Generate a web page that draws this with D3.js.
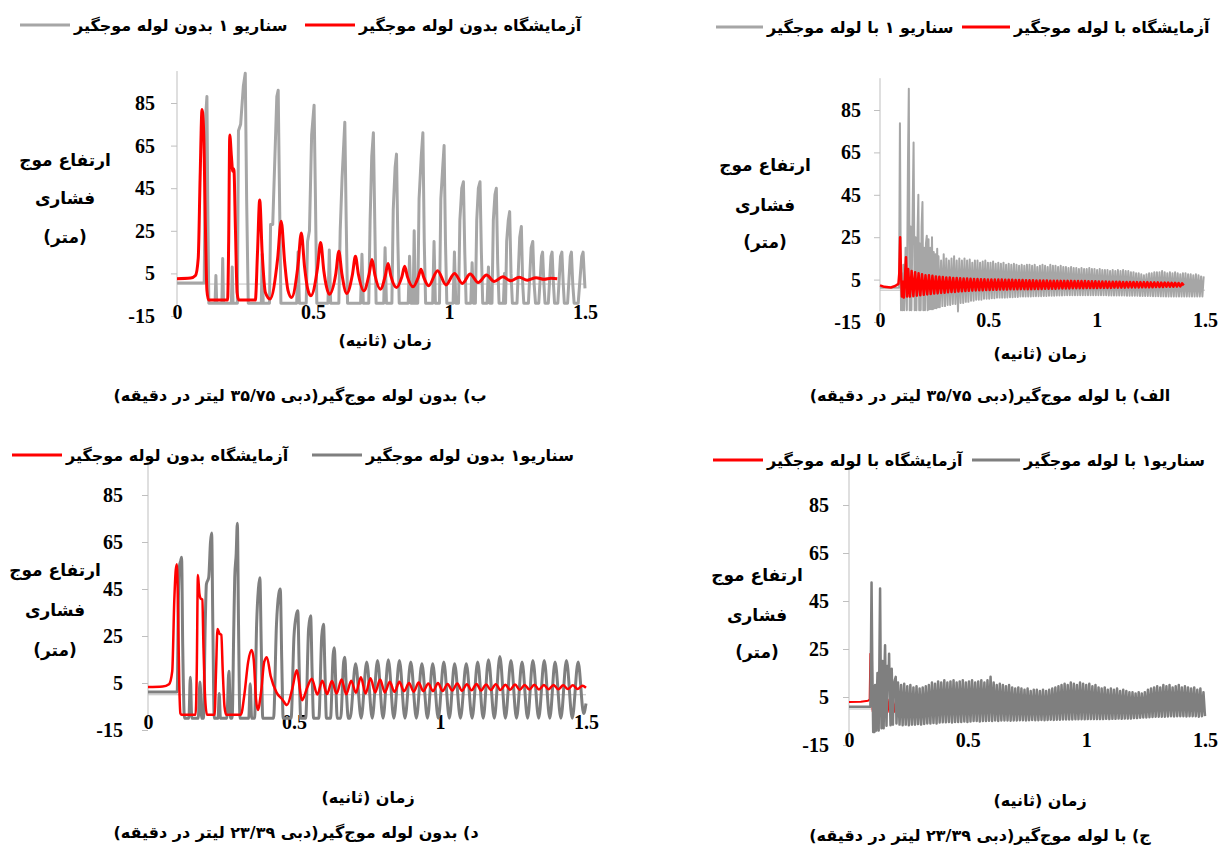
<!DOCTYPE html>
<html lang="fa">
<head>
  <meta charset="UTF-8">
  <title>ارتفاع موج فشاری</title>
  <script src="https://d3js.org/d3.v7.min.js"></script>
  <style>
    body { margin: 0; background: #fff; }
    .num { font-family: "Liberation Serif", "DejaVu Serif", serif; font-weight: bold; fill: #000; }
    .fa { font-family: "DejaVu Sans", sans-serif; font-weight: bold; fill: #000; }
  </style>
</head>
<body>
  <script>
    // ---------- data (time in s, head in m) ----------
    const xTicks = [0, 0.5, 1, 1.5];
    const yTicks = [-15, 5, 25, 45, 65, 85];

    // panel ب : lab (red) and scenario 1 (gray), without surge tank, 35.75 l/min
    const labB = [
      [0,2.5],[0.05,2.8],[0.068,4],[0.078,12],[0.085,50],[0.092,82],[0.098,72],[0.104,30],[0.11,-3],[0.116,-7.5],
      [0.186,-7.5],[0.19,20],[0.194,70],[0.2,60],[0.205,53],[0.209,54],[0.215,25],[0.221,-4],[0.227,-7.5],
      [0.288,-7.5],[0.296,15],[0.304,39.5],[0.313,15],[0.325,-4],[0.342,-7],
      [0.37,12],[0.383,29.5],[0.396,10],[0.408,-3],[0.421,-6.3],
      [0.445,9],[0.457,24],[0.469,8],[0.48,-2],[0.492,-5.5],
      [0.516,7],[0.528,19.5],[0.54,6],[0.55,-1.5],[0.56,-4.8],
      [0.584,5],[0.595,15.4],[0.606,5],[0.624,-4.4],
      [0.645,4.5],[0.656,13],[0.667,4.5],[0.687,-3.2],
      [0.706,4.5],[0.717,11.5],[0.728,4],[0.748,-2.4],
      [0.766,4],[0.776,9.7],[0.786,4],[0.807,-1.6],
      [0.827,3.5],[0.837,8.3],[0.847,3.5],[0.868,-1.3],
      [0.887,3.2],[0.897,7],[0.907,3.2],[0.925,-0.8],
      [0.958,6.3],[0.989,-0.4],[1.02,5],[1.049,0.3],[1.078,4.7],[1.107,0.7],[1.138,4.2],[1.166,1.2],
      [1.198,3.4],[1.227,1.5],[1.258,3.2],[1.288,1.8],[1.32,3],[1.35,2.2],[1.375,2.7],[1.398,2.5]
    ];
    const simB = [
      [0,0.5],[0.1,0.5],[0.103,40],[0.106,80],[0.108,84],[0.11,88],[0.113,40],[0.117,-9],
      [0.14,-9],[0.143,4],[0.146,-9],[0.165,-9],[0.168,12],[0.171,-9],[0.2,-9],[0.203,8],[0.206,-9],
      [0.222,-9],[0.226,72],[0.234,75],[0.244,93],[0.251,99],[0.256,40],[0.262,-9],
      [0.31,-9],[0.313,14],[0.317,-9],[0.34,-9],[0.344,28],[0.352,28],[0.36,60],[0.367,88],[0.372,91],[0.377,40],[0.382,-9],
      [0.44,-9],[0.445,15],[0.45,-9],[0.475,-9],[0.48,20],[0.487,25],[0.495,70],[0.504,84],[0.509,40],[0.514,-9],
      [0.555,-9],[0.56,16],[0.565,-9],[0.595,-9],[0.6,25],[0.607,50],[0.617,76],[0.622,30],[0.627,-9],
      [0.675,-9],[0.68,14],[0.685,-9],[0.705,-9],[0.71,30],[0.716,60],[0.722,71],[0.727,30],[0.732,-9],
      [0.76,-9],[0.765,17],[0.77,-9],[0.79,-9],[0.795,35],[0.802,55],[0.807,61],[0.812,20],[0.817,-9],
      [0.85,-9],[0.855,13],[0.86,-9],[0.868,-9],[0.872,25],[0.876,-9],[0.885,-9],[0.89,40],[0.898,60],[0.904,71],[0.909,20],[0.914,-9],
      [0.94,-9],[0.945,20],[0.95,-9],[0.965,-9],[0.97,40],[0.977,55],[0.982,65],[0.987,20],[0.992,-9],
      [1.015,-9],[1.02,15],[1.025,-9],[1.035,-9],[1.04,30],[1.047,45],[1.053,48],[1.058,15],[1.063,-9],
      [1.08,-9],[1.085,10],[1.09,-9],[1.097,-9],[1.102,30],[1.108,45],[1.114,48],[1.119,15],[1.124,-9],
      [1.14,-9],[1.145,8],[1.15,-9],[1.158,-9],[1.163,30],[1.169,42],[1.174,45],[1.179,10],[1.184,-9],
      [1.2,-9],[1.204,5],[1.208,-9],[1.212,20],[1.218,30],[1.223,34],[1.228,5],[1.233,-9],
      [1.25,-9],[1.26,22],[1.266,27],[1.271,0],[1.275,-9],
      [1.292,-9],[1.302,17],[1.308,20],[1.313,0],[1.318,-9],
      [1.33,-9],[1.34,13],[1.344,15],[1.349,0],[1.353,-9],
      [1.365,-9],[1.375,13],[1.379,15],[1.384,0],[1.388,-9],
      [1.4,-9],[1.41,13],[1.415,15],[1.42,0],[1.424,-9],
      [1.436,-9],[1.446,13],[1.45,15],[1.455,0],[1.46,-9],
      [1.475,-9],[1.488,13],[1.493,15],[1.497,5],[1.5,-2]
    ];

    // panel الف : with surge tank, 35.75 l/min (sampled oscillation after the first spikes)
    const labA_lead = [
      [0,2.3],[0.02,1.6],[0.05,1.3],[0.07,2],[0.085,3],[0.089,8],[0.093,25],[0.097,8],[0.101,-3],
      [0.106,4],[0.11,-3.5],[0.115,6],[0.12,15.6],[0.125,-3]
    ];
    const labA_t0 = 0.13, labA_dt = 0.008;
    const labA_osc = [
      10,-3, 9,-2.8, 8.5,-2.6, 8,-2.4, 7.5,-2.2,
      7,-2, 7,-1.8, 6.8,-1.6, 6.5,-1.5, 6.4,-1.3,
      6.2,-1.2, 6,-1, 6,-0.9, 5.8,-0.8, 5.8,-0.6,
      5.6,-0.5, 5.5,-0.4, 5.5,-0.3, 5.4,-0.2, 5.3,-0.1,
      5.3,0, 5.2,0, 5.2,0.1, 5.1,0.1, 5.1,0.2,
      5,0.2, 5,0.3, 5,0.3, 4.9,0.3, 4.9,0.4,
      4.9,0.4, 4.8,0.4, 4.8,0.5, 4.8,0.5, 4.7,0.5,
      4.7,0.5, 4.7,0.6, 4.6,0.6, 4.6,0.6, 4.6,0.7,
      4.6,0.7, 4.5,0.7, 4.5,0.7, 4.5,0.8, 4.4,0.8,
      4.4,0.8, 4.4,0.8, 4.4,0.9, 4.3,0.9, 4.3,0.9,
      4.3,0.9, 4.3,1, 4.2,1, 4.2,1, 4.2,1,
      4.1,1.1, 4.1,1.1, 4.1,1.1, 4,1.1, 4,1.2,
      4,1.2, 4,1.2, 3.9,1.2, 3.9,1.3, 3.9,1.3,
      3.9,1.3, 3.8,1.3, 3.8,1.4, 3.8,1.4, 3.8,1.4,
      3.7,1.4, 3.7,1.5, 3.7,1.5, 3.6,1.5, 3.6,1.6,
      3.6,1.6, 3.5,1.6, 3.5,1.7, 3.4,1.8, 3.2,2.3
    ];
    const simA_lead = [
      [0,1.2],[0.088,1.2],[0.092,78.8],[0.097,-9.4],[0.1,8],[0.104,-9.4],[0.108,12],[0.112,-9.4],
      [0.118,20],[0.124,-9.4],[0.129,60],[0.133,95],[0.137,-9.4],[0.141,30],[0.145,-9.4],[0.151,40],
      [0.155,69.7],[0.16,-9.4],[0.164,25],[0.168,-9.4],[0.174,30],[0.177,45],[0.181,-9.4],[0.184,22],
      [0.188,-9.4],[0.192,30],[0.196,41.6],[0.2,-9.4],[0.204,20],[0.208,-9.4],[0.212,22],[0.216,25.7],
      [0.22,-9.4],[0.224,24],[0.228,-9],[0.232,20],[0.236,-9],[0.24,25],[0.244,-9],[0.248,18],
      [0.252,-8.5],[0.256,17],[0.26,-8.5],[0.264,19.5],[0.268,-8]
    ];
    const simA_t0 = 0.27, simA_dt = 0.006;
    const simA_osc = [
      16,-8, 14,-7.5, 17,-7.5, 15,-7, 14,-7,
      15,-6.5, 16,-6.5, 14,-10, 15,-6, 14,-6,
      15,-5.5, 14,-5.5, 14.5,-5, 13,-5, 14,-4.5,
      14,-4.5, 13,-4.5, 13.5,-4, 14,-4, 13,-4,
      13,-3.8, 13.5,-3.8, 12.5,-3.5, 13,-3.5, 12.5,-3.5,
      13,-3.5, 12,-3.4, 12.5,-3.3, 12,-3.3, 12.5,-3.2,
      12,-3.2, 11.5,-3, 12,-3, 11.5,-3, 12,-3,
      12,-3, 11.5,-2.8, 12,-2.8, 11,-2.8, 11.5,-2.8,
      12,-2.7, 11.5,-2.7, 11,-2.6, 12,-2.6, 11.5,-2.6,
      11.5,-2.5, 11,-2.5, 11.5,-2.5, 11,-2.4, 11,-2.4,
      10.5,-2.4, 11,-2.4, 10.5,-2.4, 10.5,-2.4, 10,-2.4,
      10.5,-2.4, 10,-2.4, 10,-2.4, 10.5,-2.4, 10,-2.4,
      10,-2.4, 9.5,-2.4, 10,-2.4, 9.5,-2.4, 9.5,-2.4,
      9.5,-2.5, 9,-2.5, 9.5,-2.5, 9,-2.5, 9.5,-2.5,
      9,-2.5, 9.5,-2.5, 9,-2.6, 9,-2.6, 8.5,-2.6,
      8.5,-2.6, 8,-2.6, 8,-2.7, 7.5,-2.7, 7,-2.7,
      7.5,-2.7, 8,-2.7, 8,-2.8, 8.5,-2.8, 8.5,-2.8,
      8.5,-2.9, 9,-2.9, 8.5,-3, 8,-3, 8.5,-3,
      8,-3, 8.5,-3, 8,-3, 7.5,-3, 8,-3,
      8,-3, 7.5,-3, 7.5,-3, 7,-3, 7.5,-3,
      7,-3, 6.5,-3, 6.5
    ];

    // panel د : without surge tank, 23.39 l/min
    const labD = [
      [0,3.3],[0.05,3.5],[0.072,4.5],[0.083,10],[0.09,40],[0.095,53],[0.099,55.5],[0.103,35],[0.107,5],[0.111,-8],[0.115,-8.5],
      [0.163,-8.5],[0.167,10],[0.171,51],[0.176,43],[0.18,41],[0.186,40.5],[0.19,20],[0.196,-2],[0.202,-8.5],
      [0.228,-8.5],[0.233,10],[0.238,28],[0.245,26],[0.251,25.5],[0.256,10],[0.262,-5],[0.268,-8.5],
      [0.318,-8.5],[0.33,0],[0.343,14],[0.355,19],[0.362,15],[0.37,-2],[0.376,-6.5],
      [0.388,2],[0.398,14],[0.407,16],[0.42,8],[0.44,1],[0.46,-2],[0.476,-4.4],
      [0.495,3],[0.509,10.4],[0.528,-2.3],[0.545,3],[0.561,6.8],[0.58,0.1],
      [0.597,6],[0.613,0.3],[0.63,5.8],[0.646,0.5],[0.663,6.5],[0.679,0.2],[0.696,6],[0.712,0.8],
      [0.729,7.5],[0.745,0.5],[0.762,7],[0.778,1],[0.795,6.5],[0.811,1],[0.828,5.5],[0.844,1.2],
      [0.861,5.5],[0.877,1.5],[0.894,5],[0.91,1.3],[0.927,5.2],[0.943,1.5],[0.96,4.8],[0.976,1.5],
      [0.993,5],[1.009,1.6],[1.026,4.6],[1.042,1.8],[1.059,4.8],[1.075,1.7],[1.092,4.5],[1.108,1.9],
      [1.125,4.6],[1.141,1.8],[1.158,4.4],[1.174,2],[1.191,4.5],[1.207,2],[1.224,4.3],[1.24,2.1],
      [1.257,4.4],[1.273,2.1],[1.29,4.2],[1.306,2.2],[1.323,4.3],[1.339,2.2],[1.356,4.1],[1.372,2.3],
      [1.389,4.2],[1.405,2.3],[1.422,4],[1.438,2.4],[1.455,4],[1.471,2.5],[1.488,3.8],[1.5,3]
    ];
    const simD = [
      [0,1.2],[0.1,1.2],[0.104,40],[0.108,55],[0.112,57],[0.115,58.5],[0.119,20],[0.125,-10],
      [0.14,-10],[0.145,7.5],[0.15,-10],[0.172,-10],[0.178,5.4],[0.184,-10],
      [0.19,-10],[0.196,30],[0.2,47],[0.208,50],[0.214,65],[0.218,68.8],[0.222,30],[0.227,-10],
      [0.24,-10],[0.244,0.5],[0.248,-10],[0.27,-10],[0.277,10],[0.283,-10],
      [0.288,-10],[0.294,30],[0.297,49.8],[0.302,60],[0.306,73],[0.31,30],[0.315,-10],
      [0.345,-10],[0.35,4.7],[0.355,-10],
      [0.365,-10],[0.372,30],[0.378,45],[0.383,49.8],[0.388,20],[0.393,-10],
      [0.43,-10],[0.44,30],[0.448,43],[0.453,45],[0.458,15],[0.463,-10],
      [0.49,-10],[0.5,25],[0.508,34],[0.513,35.7],[0.518,10],[0.523,-10],
      [0.54,-10],[0.55,28],[0.557,33.6],[0.562,10],[0.567,-10],
      [0.585,-10],[0.595,25],[0.601,30],[0.606,10],[0.611,-10],
      [0.625,-10],[0.634,17],[0.638,20],[0.643,5],[0.648,-10],
      [0.66,-10],[0.67,14],[0.674,16],[0.68,0],[0.686,-10],
      [0.692,-10],[0.711,13.2],[0.73,-10],[0.749,13.9],[0.768,-10],[0.786,14.6],[0.805,-10],[0.823,14.9],
      [0.842,-10],[0.861,14.6],[0.88,-10],[0.9,13.9],[0.919,-10],[0.938,13.2],[0.957,-10],[0.975,13.2],
      [0.994,-10],[1.013,13.9],[1.032,-10],[1.05,13.2],[1.07,-10],[1.09,13.2],[1.11,-10],[1.129,13.9],
      [1.148,-10],[1.166,14.9],[1.186,-10],[1.205,16.3],[1.224,-10],[1.243,14.6],[1.262,-10],[1.281,13.9],
      [1.3,-10],[1.318,14.6],[1.338,-10],[1.357,14.6],[1.376,-10],[1.394,13.9],[1.414,-10],[1.433,14.6],
      [1.453,-10],[1.473,13.9],[1.492,-8],[1.5,-3.7]
    ];

    // panel ج : with surge tank, 23.39 l/min
    const labC = [
      [0,2.9],[0.05,3],[0.08,3.4],[0.087,4],[0.09,23],[0.094,8],[0.1,-1],[0.107,-2.6],[0.114,5],[0.121,-2],
      [0.128,5],[0.135,-1.5],[0.142,4.5],[0.149,-1.5],[0.156,4.5],[0.163,-1.3],[0.17,4],[0.177,-1.3],
      [0.184,4],[0.191,-1.2],[0.198,4],[0.205,-1.2],[0.212,3.8],[0.22,-1.2],[0.228,3.8],[0.236,0],
      [0.25,3.5],[0.265,0.5],[0.28,3.5],[0.295,0.8],[0.31,3.4],[0.4,1],[0.5,3.2],[0.6,1.2],[0.8,3],
      [1,1.5],[1.2,3],[1.4,2.2]
    ];
    const simC_lead = [
      [0,0.9],[0.09,0.9],[0.093,30],[0.095,52.7],[0.098,20],[0.102,-9.6],[0.107,-9.6],[0.11,10],[0.114,-9],
      [0.12,15],[0.125,-9],[0.128,20],[0.131,50.2],[0.134,10],[0.137,-8],[0.141,20],[0.146,-8],[0.149,15],
      [0.152,26.6],[0.155,5],[0.158,-7],[0.163,18],[0.166,10],[0.169,23],[0.172,5],[0.175,-6.8],
      [0.18,16.8],[0.185,-6.5],[0.189,10],[0.193,12],[0.197,13.4]
    ];
    const simC_t0 = 0.2, simC_dt = 0.0065;
    const simC_osc = [
      -6,
      11,-6.5, 10,-6.8, 10.5,-6.5, 9.5,-6.8, 10,-6.5,
      9,-6.5, 9.5,-6.3, 8.5,-6.5, 9,-6.2, 9.5,-6,
      10,-6, 11,-5.8, 10.5,-6, 11.5,-5.6, 11,-5.5,
      12,-5.5, 11,-5.4, 11.5,-5.6, 12,-5.4, 11,-5.4,
      11.5,-5.4, 12,-5.2, 11,-5.4, 11.5,-5.2, 12,-5,
      11,-5, 11.5,-5.2, 12,-5, 11,-5, 12,-4.9,
      13.4,-5, 11,-4.8, 10,-5, 10.5,-4.8, 10,-4.8,
      9.5,-4.8, 10,-4.9, 9,-4.8, 8.5,-4.8, 9,-4.7,
      8.5,-4.7, 8,-4.8, 8.5,-4.7, 7.5,-4.6, 8,-4.7,
      8,-4.7, 7.5,-4.6, 8,-4.7, 7.5,-4.6, 8,-4.5,
      8.5,-4.6, 9,-4.5, 9.5,-4.5, 10,-4.4, 10.5,-4.4,
      10,-4.4, 11,-4.4, 10.5,-4.3, 10,-4.3, 11,-4.3,
      10.5,-4.3, 10,-4.2, 10.5,-4.2, 9.5,-4.2, 10,-4.2,
      9,-4.2, 8.5,-4.2, 9,-4.1, 8,-4.2, 8.5,-4.1,
      8,-4.1, 8.5,-4, 7.5,-4.1, 8,-4, 7.5,-4,
      7,-4, 7,-3.8, 6.5,-3.8, 7,-3.6, 6.5,-3.5,
      7,-3.5, 8,-3.4, 8.5,-3.3, 9,-3.2, 9.5,-3.2,
      9,-3.2, 10,-3.2, 9.5,-3.1, 10,-3, 9,-3.1,
      9.5,-3, 10,-3, 9,-3, 9.5,-3.1, 9,-3,
      8.5,-3, 9,-3, 8,-3.2, 8.5,-3, 7,-3
    ];

    // ---------- text ----------
    const yTitleLines = ["ارتفاع موج", "فشاری", "(متر)"];
    const xTitle = "زمان (ثانیه)";

    function sampled(lead, t0, dt, vals) {
      return lead.concat(vals.map((v, i) => [t0 + i * dt, v]));
    }

    const red = "#ff0000", grayLight = "#a6a6a6", grayDark = "#7f7f7f";

    const panels = [
      { xr: [177, 585], yr: [316, 103], pad: 16, xLabY: 312,
        yTitle: { x: 65, ys: [160, 198, 237] }, xTitlePos: [385, 340],
        caption: [300, 395, "ب) بدون لوله موج‌گیر(دبی ۳۵/۷۵ لیتر در دقیقه)"],
        legendY: 25,
        legend: [
          { color: grayLight, x0: 20, x1: 70, label: "سناریو ۱ بدون لوله موجگیر" },
          { color: red, x0: 305, x1: 355, label: "آزمایشگاه بدون لوله موجگیر" }
        ],
        series: [
          { data: simB, color: grayLight, width: 3, curve: d3.curveLinear },
          { data: labB, color: red, width: 3, curve: d3.curveMonotoneX }
        ] },
      { xr: [880, 1205], yr: [322, 110], pad: 13, xLabY: 320,
        yTitle: { x: 765, ys: [165, 205, 242] }, xTitlePos: [1040, 353],
        caption: [990, 395, "الف) با لوله موج‌گیر(دبی ۳۵/۷۵ لیتر در دقیقه)"],
        legendY: 27,
        legend: [
          { color: grayLight, x0: 716, x1: 763, label: "سناریو ۱ با لوله موجگیر" },
          { color: red, x0: 962, x1: 1010, label: "آزمایشگاه با لوله موجگیر" }
        ],
        series: [
          { data: sampled(simA_lead, simA_t0, simA_dt, simA_osc), color: grayLight, width: 2, curve: d3.curveLinear },
          { data: sampled(labA_lead, labA_t0, labA_dt, labA_osc), color: red, width: 2.5, curve: d3.curveLinear }
        ] },
      { xr: [148, 586], yr: [730, 495], pad: 19, xLabY: 722,
        yTitle: { x: 55, ys: [570, 610, 650] }, xTitlePos: [368, 797],
        caption: [296, 832, "د) بدون لوله موج‌گیر(دبی ۲۳/۳۹ لیتر در دقیقه)"],
        legendY: 455,
        legend: [
          { color: red, x0: 12, x1: 62, label: "آزمایشگاه بدون لوله موجگیر" },
          { color: grayDark, x0: 312, x1: 362, label: "سناریو۱ بدون لوله موجگیر" }
        ],
        series: [
          { data: simD, color: grayDark, width: 3, curve: d3.curveMonotoneX },
          { data: labD, color: red, width: 2.5, curve: d3.curveMonotoneX }
        ] },
      { xr: [849, 1205], yr: [745, 505], pad: 14, xLabY: 740,
        yTitle: { x: 757, ys: [575, 615, 652] }, xTitlePos: [1040, 800],
        caption: [980, 835, "ج) با لوله موج‌گیر(دبی ۲۳/۳۹ لیتر در دقیقه)"],
        legendY: 460,
        legend: [
          { color: red, x0: 713, x1: 763, label: "آزمایشگاه با لوله موجگیر" },
          { color: grayDark, x0: 972, x1: 1020, label: "سناریو۱ با لوله موجگیر" }
        ],
        series: [
          { data: labC, color: red, width: 2, curve: d3.curveLinear },
          { data: sampled(simC_lead, simC_t0, simC_dt, simC_osc), color: grayDark, width: 2.5, curve: d3.curveLinear }
        ] }
    ];

    const width = 1220, height = 852;
    const svg = d3.select("body").append("svg")
      .attr("width", width)
      .attr("height", height)
      .attr("viewBox", [0, 0, width, height]);

    svg.append("rect").attr("width", width).attr("height", height).attr("fill", "#fff");

    panels.forEach(p => {
      const g = svg.append("g");
      const x = d3.scaleLinear().domain([0, 1.5]).range(p.xr);
      const y = d3.scaleLinear().domain([-15, 85]).range(p.yr);

      // horizontal axis line at 0
      g.append("line")
        .attr("x1", x(0)).attr("x2", x(1.5))
        .attr("y1", y(0)).attr("y2", y(0))
        .attr("stroke", "#bfbfbf").attr("stroke-width", 1);

      // vertical axis
      const ya = g.append("g")
        .attr("transform", `translate(${x(0)},0)`)
        .call(d3.axisLeft(y).tickValues(yTicks).tickSize(6).tickPadding(p.pad).tickFormat(d => String(d)));
      ya.select(".domain").remove();
      ya.selectAll(".tick line").attr("stroke", "#bfbfbf");
      ya.selectAll(".tick text").attr("class", "num").attr("font-size", 20);
      g.append("line")
        .attr("x1", x(0)).attr("x2", x(0))
        .attr("y1", y(100)).attr("y2", y(-10))
        .attr("stroke", "#bfbfbf").attr("stroke-width", 1);

      // time labels
      const xa = g.append("g")
        .attr("transform", `translate(0,${p.xLabY})`)
        .call(d3.axisBottom(x).tickValues(xTicks).tickSize(0).tickFormat(d => String(d)));
      xa.select(".domain").remove();
      xa.selectAll(".tick text").attr("class", "num").attr("font-size", 20).attr("y", 0).attr("dy", "0.35em");

      // series
      p.series.forEach(s => {
        g.append("path")
          .datum(s.data)
          .attr("fill", "none")
          .attr("stroke", s.color)
          .attr("stroke-width", s.width)
          .attr("stroke-linejoin", "round")
          .attr("d", d3.line().x(d => x(d[0])).y(d => y(d[1])).curve(s.curve));
      });

      // axis titles
      g.selectAll(".ytitle")
        .data(yTitleLines)
        .join("text")
        .attr("class", "fa")
        .attr("x", p.yTitle.x)
        .attr("y", (d, i) => p.yTitle.ys[i])
        .attr("dy", "0.35em")
        .attr("direction", "rtl")
        .attr("text-anchor", "middle")
        .attr("font-size", 17)
        .text(d => d);

      g.append("text")
        .attr("class", "fa")
        .attr("x", p.xTitlePos[0]).attr("y", p.xTitlePos[1])
        .attr("dy", "0.35em")
        .attr("direction", "rtl")
        .attr("text-anchor", "middle")
        .attr("font-size", 16)
        .text(xTitle);

      g.append("text")
        .attr("class", "fa")
        .attr("x", p.caption[0]).attr("y", p.caption[1])
        .attr("dy", "0.35em")
        .attr("direction", "rtl")
        .attr("text-anchor", "middle")
        .attr("font-size", 16)
        .text(p.caption[2]);

      // legend: line sample, then its label to the right (RTL text, left edge anchored)
      p.legend.forEach(l => {
        g.append("line")
          .attr("x1", l.x0).attr("x2", l.x1)
          .attr("y1", p.legendY).attr("y2", p.legendY)
          .attr("stroke", l.color).attr("stroke-width", 3);
        g.append("text")
          .attr("class", "fa")
          .attr("x", l.x1 + 4).attr("y", p.legendY)
          .attr("dy", "0.35em")
          .attr("direction", "rtl")
          .attr("text-anchor", "end")
          .attr("font-size", 16)
          .text(l.label);
      });
    });
  </script>
</body>
</html>
